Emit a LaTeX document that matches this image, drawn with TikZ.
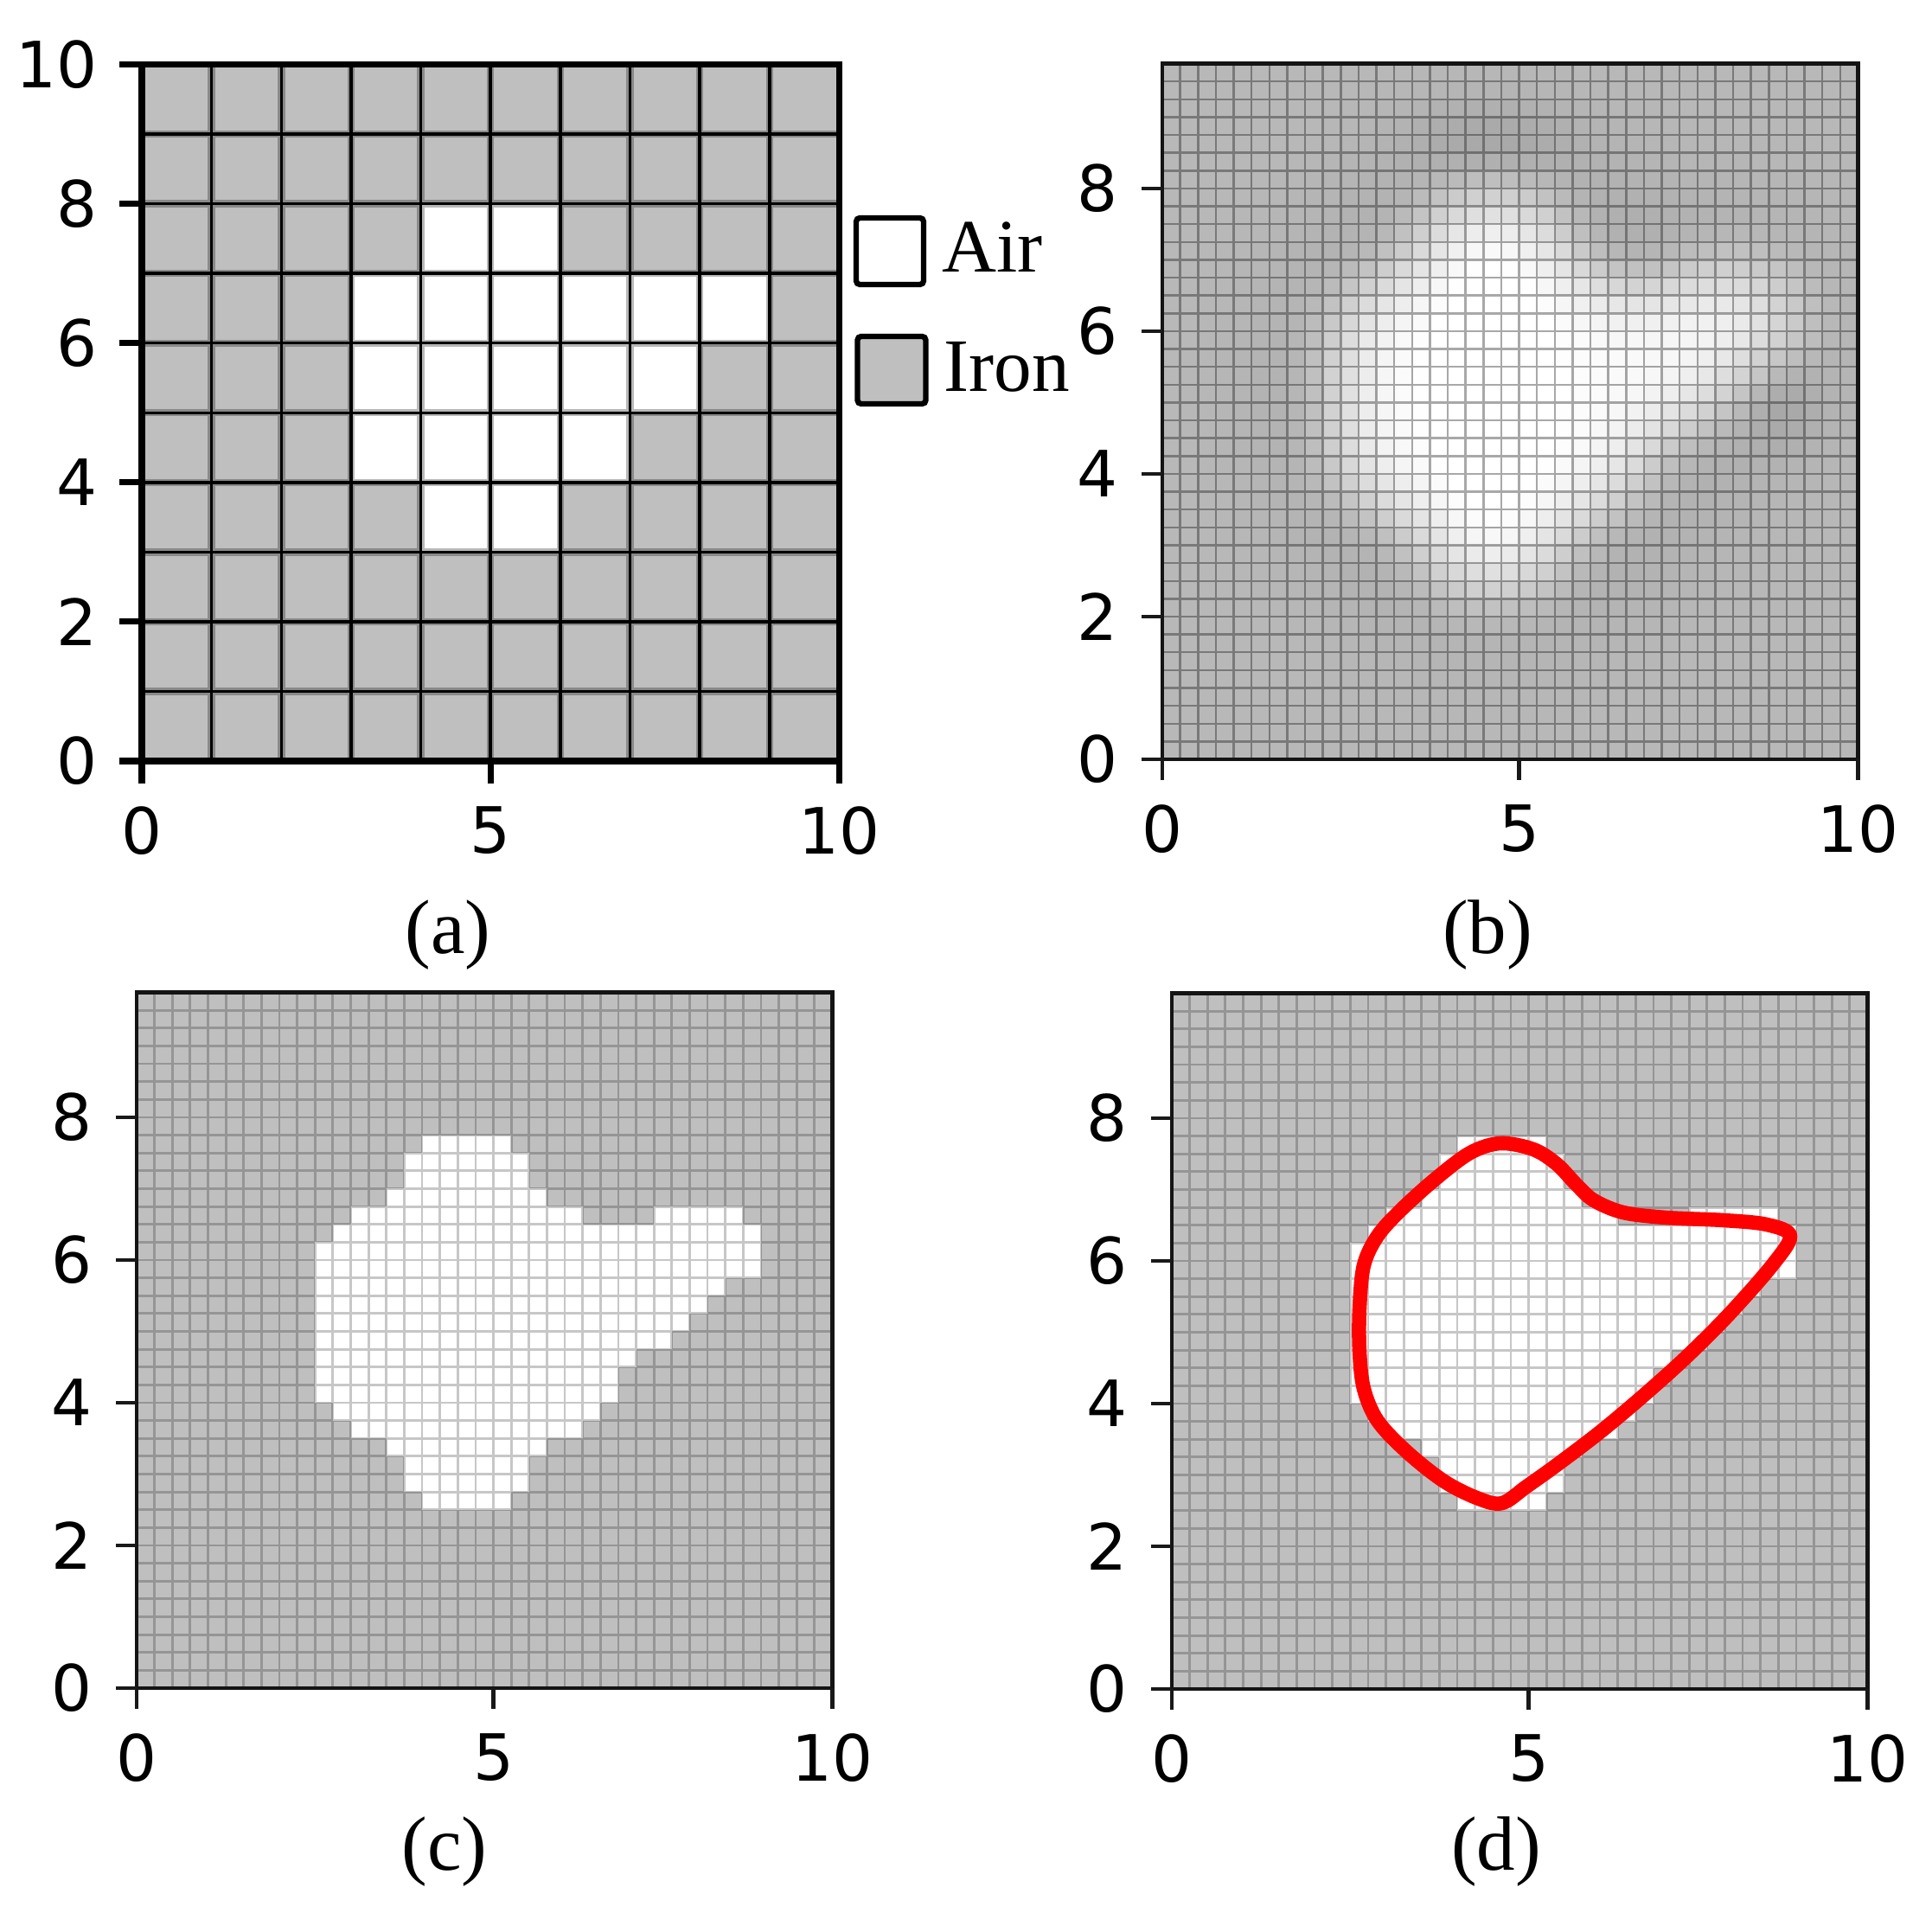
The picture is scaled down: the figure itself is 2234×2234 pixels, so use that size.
\documentclass[tikz,border=0pt]{standalone}
\usepackage{fontspec}
\setmainfont{Liberation Serif}
\newfontfamily\tickfont{DejaVu Sans}
\definecolor{irongray}{RGB}{191,191,191}
\definecolor{curvered}{RGB}{255,0,0}

% white cells of the 39x39 maps: row (from top) / first col / last col
\def\RSsegs{8/16/20,9/15/21,10/15/21,11/14/22,12/12/24,12/29/33,13/11/34,14/10/34,15/10/34,16/10/32,17/10/31,18/10/30,19/10/29,20/10/27,21/10/26,22/10/26,23/11/25,24/12/24,25/14/22,26/15/21,27/15/21,28/16/20}

\newcommand\RSbcell[3]{\edef\RSdef{\noexpand\definecolor{rsbc}{RGB}{#3,#3,#3}}\RSdef\fill[rsbc] (#1,38-#2) rectangle ++(1,1);}

\ExplSyntaxOn
\intarray_new:Nn \g__rs_mask_intarray {1521}
\intarray_new:Nn \g__rs_tmp_intarray {1521}
\intarray_new:Nn \g__rs_s_intarray {1521}
\intarray_new:Nn \g__rs_l_intarray {1521}
\intarray_new:Nn \g__rs_kern_intarray {81}
\int_new:N \l__rs_sum_int
\int_new:N \l__rs_R_int
\int_new:N \l__rs_v_int
\int_new:N \l__rs_g_int
\fp_new:N \l__rs_z_fp

\cs_new_protected:Npn \RSseg #1#2#3
  {
    \int_step_inline:nnn {#2} {#3}
      { \intarray_gset:Nnn \g__rs_mask_intarray { #1 * 39 + ##1 + 1 } { 1 } }
  }

\cs_new_protected:Npn \__rs_kernel:nn #1#2
  {
    \int_set:Nn \l__rs_R_int {#2}
    \fp_zero:N \l__rs_z_fp
    \int_step_inline:nnn { 0 - #2 } { #2 }
      { \fp_add:Nn \l__rs_z_fp { exp( 0 - (##1) * (##1) / (2 * #1 * #1) ) } }
    \int_step_inline:nnn { 0 - #2 } { #2 }
      {
        \intarray_gset:Nnn \g__rs_kern_intarray { ##1 + #2 + 1 }
          { \fp_eval:n { round( 1000 * exp( 0 - (##1) * (##1) / (2 * #1 * #1) ) / \l__rs_z_fp ) } }
      }
  }

\cs_new_protected:Npn \__rs_blur:nnN #1#2#3
  {
    \__rs_kernel:nn {#1} {#2}
    \int_step_inline:nnn {0} {38}
      {
        \int_step_inline:nnn {0} {38}
          {
            \int_zero:N \l__rs_sum_int
            \int_step_inline:nnn { \int_max:nn { 0 - \l__rs_R_int } { 0 - ####1 } } { \int_min:nn { \l__rs_R_int } { 38 - ####1 } }
              {
                \int_add:Nn \l__rs_sum_int
                  {
                    \intarray_item:Nn \g__rs_mask_intarray { ##1 * 39 + ####1 + ########1 + 1 }
                    * \intarray_item:Nn \g__rs_kern_intarray { ########1 + \l__rs_R_int + 1 }
                  }
              }
            \intarray_gset:Nnn \g__rs_tmp_intarray { ##1 * 39 + ####1 + 1 } { \l__rs_sum_int }
          }
      }
    \int_step_inline:nnn {0} {38}
      {
        \int_step_inline:nnn {0} {38}
          {
            \int_zero:N \l__rs_sum_int
            \int_step_inline:nnn { \int_max:nn { 0 - \l__rs_R_int } { 0 - ##1 } } { \int_min:nn { \l__rs_R_int } { 38 - ##1 } }
              {
                \int_add:Nn \l__rs_sum_int
                  {
                    \intarray_item:Nn \g__rs_tmp_intarray { ##1 * 39 + ########1 * 39 + ####1 + 1 }
                    * \intarray_item:Nn \g__rs_kern_intarray { ########1 + \l__rs_R_int + 1 }
                  }
              }
            \intarray_gset:Nnn #3 { ##1 * 39 + ####1 + 1 } { \int_div_round:nn { \l__rs_sum_int } { 1000 } }
          }
      }
  }

\cs_new_protected:Npn \RScomputeB
  {
    \__rs_blur:nnN {1.8} {6} \g__rs_s_intarray
    \__rs_blur:nnN {4} {12} \g__rs_l_intarray
  }

% positive = darker, negative = lighter
\cs_new:Npn \RSblobs #1#2
  {
    0.18 * exp( 0 - ( ((#1 + 0.5 - 18.5)/4.5) * ((#1 + 0.5 - 18.5)/4.5) + ((#2 + 0.5 - 4.3)/2.0) * ((#2 + 0.5 - 4.3)/2.0) ) )
    + 0.18 * exp( 0 - ( ((#1 + 0.5 - 34.8)/2.0) * ((#1 + 0.5 - 34.8)/2.0) + ((#2 + 0.5 - 19)/2.5) * ((#2 + 0.5 - 19)/2.5) ) )
    - 0.25 * exp( 0 - ( ((#1 + 0.5 - 18.5)/3.2) * ((#1 + 0.5 - 18.5)/3.2) + ((#2 + 0.5 - 18)/7.5) * ((#2 + 0.5 - 18)/7.5) ) )
  }

% #1 background grey, #2 ring factor (tenths), #3 gain (percent)
\cs_new_protected:Npn \RSdrawB #1#2#3
  {
    \int_step_inline:nnn {0} {38}
      {
        \int_step_inline:nnn {0} {38}
          {
            \int_set:Nn \l__rs_v_int
              {
                \intarray_item:Nn \g__rs_s_intarray { ##1 * 39 + ####1 + 1 } * #3 / 100
                - #2 * \int_max:nn { 0 } { \intarray_item:Nn \g__rs_l_intarray { ##1 * 39 + ####1 + 1 } - \intarray_item:Nn \g__rs_s_intarray { ##1 * 39 + ####1 + 1 } } / 10
                - \fp_eval:n { round( 1000 * ( \RSblobs {####1} {##1} ) ) }
              }
            \int_set:Nn \l__rs_v_int { \int_min:nn { 1000 } { \l__rs_v_int } }
            \int_set:Nn \l__rs_g_int { #1 + ( 255 - #1 ) * \l__rs_v_int / 1000 }
            \int_set:Nn \l__rs_g_int { \int_max:nn { 0 } { \int_min:nn { 255 } { \l__rs_g_int } } }
            \RSbcell {####1} {##1} { \int_use:N \l__rs_g_int }
          }
      }
  }
\ExplSyntaxOff

\foreach \rj/\ra/\rb in \RSsegs {\RSseg{\rj}{\ra}{\rb}}
\RScomputeB

\tikzset{
  aspine/.style={line width=2pt, line join=miter, black},
  atick/.style={line width=2pt, black},
  agrid/.style={line width=1pt, black},
  agridhalo/.style={line width=2.4pt, black, opacity=0.28},
  pspine/.style={line width=1.4pt, line join=miter, black!92},
  ptick/.style={line width=1.25pt, black!90},
  cgrid/.style={line width=0.8pt, black, opacity=0.22},
  bgrid/.style={line width=0.7pt, black, opacity=0.34},
  ticklbl/.style={font=\tickfont\fontsize{21}{21}\selectfont, inner sep=0pt},
  lgdbox/.style={line width=1.8pt, rounded corners=1.2pt, black},
  lgdtxt/.style={font=\fontsize{24.8}{25}\selectfont, inner sep=0pt},
  panellbl/.style={font=\fontsize{25.3}{26}\selectfont, inner sep=0pt},
  redcurve/.style={line width=4.7pt, curvered, line join=round},
}

\newcommand\RSaxes[1]{%
  \draw[pspine] (0,0) rectangle (39,39);
  \foreach \L in {0,2,4,6,8} {
    \draw[ptick] (0,4*\L) -- ++(-0.24cm,0cm);
    \node[ticklbl, anchor=east, xshift=-0.51cm] (#1y\L) at (0,4*\L) {\L};
  }
  \foreach \c/\L in {0/0,20/5,39/10} {
    \draw[ptick] (\c,0) -- ++(0cm,-0.24cm);
    \node[ticklbl, anchor=north, yshift=-0.52cm] (#1x\L) at (\c,0) {\L};
  }
}
\newcommand\RSwhitecells{%
  \foreach \rj/\ra/\rb in \RSsegs {\fill[white] (\ra,38-\rj) rectangle (\rb+1,39-\rj);}
}
\newcommand\RScgrid{%
  \draw[cgrid] \foreach \k in {1,...,38} {(\k,0) -- (\k,39) (0,\k) -- (39,\k)};
}

\begin{document}
\begin{tikzpicture}[x=0.01cm, y=-0.01cm]
\useasboundingbox (0,0) rectangle (2234,2234);

% ---------------- (a) ----------------
\begin{scope}[shift={(164,880)}, x=0.806cm, y=0.805cm]
  \fill[irongray] (0,0) rectangle (10,10);
  \fill[white] (4,7) rectangle (6,8);
  \fill[white] (3,6) rectangle (9,7);
  \fill[white] (3,5) rectangle (8,6);
  \fill[white] (3,4) rectangle (7,5);
  \fill[white] (4,3) rectangle (6,4);
  \draw[agridhalo] \foreach \k in {1,...,9} {(\k,0) -- (\k,10) (0,\k) -- (10,\k)};
  \draw[agrid] \foreach \k in {1,...,9} {(\k,0) -- (\k,10) (0,\k) -- (10,\k)};
  \draw[aspine] (0,0) rectangle (10,10);
  \foreach \y in {0,2,4,6,8,10} {
    \draw[atick] (0,\y) -- ++(-0.26cm,0cm);
    \node[ticklbl, anchor=east, xshift=-0.51cm] (ay\y) at (0,\y) {\y};
  }
  \foreach \x in {0,5,10} {
    \draw[atick] (\x,0) -- ++(0cm,-0.26cm);
    \node[ticklbl, anchor=north, yshift=-0.52cm] (ax\x) at (\x,0) {\x};
  }
\end{scope}

% legend
\draw[lgdbox, fill=white] (990,252) rectangle (1068,329);
\draw[lgdbox, fill=irongray] (991.5,389) rectangle (1070.5,467);
\node[lgdtxt, anchor=base west] (lair) at (1089,315) {Air};
\node[lgdtxt, anchor=base west] (liron) at (1091,453) {Iron};
\node[panellbl, anchor=base] (la) at (518,1102) {(a)};

% ---------------- (b) ----------------
\begin{scope}[shift={(1344,878)}, x=0.20615cm, y=0.20615cm]
  \RSdrawB{184}{7}{94}
  \draw[bgrid] \foreach \k in {1,...,38} {(\k,0) -- (\k,39) (0,\k) -- (39,\k)};
  \RSaxes{b}
\end{scope}
\node[panellbl, anchor=base] (lb) at (1720,1102) {(b)};

% ---------------- (c) ----------------
\begin{scope}[shift={(158,1952)}, x=0.20615cm, y=0.20615cm]
  \fill[irongray] (0,0) rectangle (39,39);
  \RSwhitecells
  \RScgrid
  \RSaxes{c}
\end{scope}
\node[panellbl, anchor=base] (lc) at (514,2162) {(c)};

% ---------------- (d) ----------------
\begin{scope}[shift={(1355,1953)}, x=0.20615cm, y=0.20615cm]
  \fill[irongray] (0,0) rectangle (39,39);
  \RSwhitecells
  \RScgrid
  \RSaxes{d}
\end{scope}
\draw[redcurve] plot[smooth cycle, tension=0.55] coordinates {
  (1735,1322) (1773,1329) (1800,1346) (1823,1370) (1843,1388) (1877,1402)
  (1927,1408) (1993,1411) (2043,1416) (2070,1429) (2050,1462) (2000,1519)
  (1950,1569) (1900,1614) (1850,1656) (1800,1694) (1765,1719) (1737,1738)
  (1710,1733) (1670,1713) (1627,1679) (1593,1643) (1577,1606) (1572,1563)
  (1572,1513) (1577,1463) (1593,1429) (1620,1399) (1660,1363) (1700,1333)};
\node[panellbl, anchor=base] (ld) at (1730,2162) {(d)};
\end{tikzpicture}
\end{document}
